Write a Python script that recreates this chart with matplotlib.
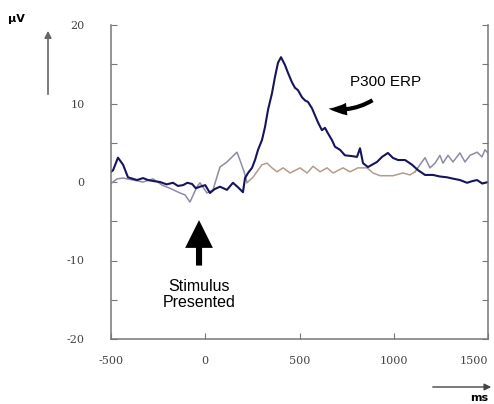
import matplotlib

matplotlib.use("Agg")

import matplotlib.pyplot as plt
from matplotlib.patches import FancyArrowPatch
from matplotlib.ticker import FixedLocator, FuncFormatter

# target (oddball) ERP: time in ms, amplitude in uV
target_ms = [-500, -489, -463, -436, -410, -383, -362, -330, -304, -270, -240, -205, -171, -145,
             -118, -95, -70, -50, -28, 0, 25, 50, 78, 115, 147, 175, 200, 211, 227, 248, 264,
             280, 301, 317, 333, 354, 370, 386, 402, 423, 439, 460, 476, 492, 513, 529, 545,
             566, 582, 598, 619, 635, 651, 672, 688, 715, 741, 778, 805, 821, 837, 863, 885,
             911, 938, 969, 996, 1023, 1060, 1097, 1129, 1166, 1208, 1245, 1282, 1320, 1351,
             1389, 1415, 1442, 1470, 1500]
target_uv = [1.3, 1.5, 3.1, 2.2, 0.6, 0.4, 0.25, 0.5, 0.25, 0.1, 0.0, -0.3, -0.1, -0.5,
             -0.4, -0.1, -0.25, -0.8, -0.6, -0.4, -1.4, -0.9, -0.6, -1.0, -0.1, -0.7, -1.3,
             0.5, 1.15, 1.8, 2.8, 4.1, 5.35, 7.0, 9.2, 11.3, 13.4, 15.2, 15.9, 14.9, 13.9, 12.7,
             12.0, 11.7, 10.8, 10.4, 10.2, 9.4, 8.5, 7.6, 6.6, 6.9, 6.2, 5.35, 4.5, 4.1, 3.4,
             3.3, 3.2, 4.3, 2.4, 1.9, 2.2, 2.55, 3.2, 3.7, 3.06, 2.8, 2.8, 2.2, 1.5, 0.9, 0.9,
             0.7, 0.6, 0.4, 0.25, -0.1, 0.1, 0.25, -0.2, 0.0]

# light trace, early and late parts
light_early_ms = [-495, -468, -436, -383, -330, -277, -229, -187, -134, -107, -81, -44, -28,
                  9, 41, 78, 115, 147, 168, 184, 206, 221]
light_early_uv = [-0.1, 0.4, 0.5, 0.25, 0.0, 0.4, -0.4, -0.8, -1.4, -1.65, -2.55, -0.6, -0.1,
                  -1.4, -1.0, 1.9, 2.55, 3.3, 3.8, 2.8, 1.3, 0.0]
light_late_ms = [1113, 1139, 1166, 1192, 1219, 1245, 1261, 1288, 1314, 1351, 1378, 1405, 1442,
                 1468, 1484, 1500]
light_late_uv = [1.3, 2.2, 3.1, 1.8, 2.4, 3.4, 2.4, 3.4, 2.55, 3.7, 2.55, 3.4, 3.8, 3.2, 4.1, 3.7]

# tan trace in the middle
tan_ms = [221, 253, 301, 328, 354, 381, 413, 450, 503, 540, 572, 609, 646, 678, 731, 768, 810,
          858, 890, 927, 996, 1049, 1086, 1113]
tan_uv = [-0.1, 0.6, 2.2, 2.4, 1.8, 1.3, 1.8, 1.15, 1.8, 1.15, 2.0, 1.3, 1.8, 1.15, 1.8, 1.3,
          1.8, 1.8, 1.15, 0.8, 0.8, 1.15, 0.9, 1.3]

x_ticks = [-500, 0, 500, 1000, 1500]
y_ticks = [-20, -15, -10, -5, 0, 5, 10, 15, 20]

fig = plt.figure(figsize=(4.94, 4.04), dpi=100)
ax = fig.add_axes([111 / 494, 1 - 339 / 404, 377 / 494, 314 / 404])

ax.plot(light_early_ms, light_early_uv, color="#8c8ca6", lw=1.1)
ax.plot(light_late_ms, light_late_uv, color="#8c8ca6", lw=1.1)
ax.plot(tan_ms, tan_uv, color="#b39c8e", lw=1.1)
ax.plot(target_ms, target_uv, color="#15155c", lw=1.5)

ax.set_xlim(-500, 1500)
ax.set_ylim(-20, 20)

for s in ("left", "right", "bottom"):
    ax.spines[s].set_color("#777777")
    ax.spines[s].set_linewidth(1.1)
ax.spines["top"].set_visible(False)

ax.xaxis.set_major_locator(FixedLocator(x_ticks))
ax.xaxis.set_major_formatter(FuncFormatter(lambda v, p: f"{v:.0f}"))
ax.yaxis.set_major_locator(FixedLocator(y_ticks))
ax.yaxis.set_major_formatter(FuncFormatter(lambda v, p: f"{v:.0f}" if v % 10 == 0 else ""))
ax.tick_params(axis="y", direction="in", length=4, color="#777777", left=True, right=True,
               labelsize=8, labelcolor="#444444", pad=19)
ax.tick_params(axis="x", direction="in", length=4, color="#777777",
               labelsize=8, labelcolor="#444444", pad=12)
fig.canvas.draw()
labels = ax.get_xticklabels()
labels[-1].set_ha("right")
for lab in ax.get_xticklabels() + ax.get_yticklabels():
    lab.set_family("DejaVu Serif")

# annotations inside the plot
ax.text(955, 12.7, "P300 ERP", fontsize=11, family="Liberation Sans", ha="center", va="center")
ax.add_patch(FancyArrowPatch((900, 10.6), (640, 9.4), connectionstyle="arc3,rad=-0.2",
                             arrowstyle="simple,head_length=1.3,head_width=0.9,tail_width=0.3",
                             color="black", mutation_scale=10, lw=0))
ax.text(-33, -14.3, "Stimulus\nPresented", fontsize=11.5, family="Liberation Sans",
        ha="center", va="center", linespacing=1.1)
ax.add_patch(FancyArrowPatch((-33, -11), (-33, -4.5),
                             arrowstyle="simple,head_length=1.0,head_width=1.0,tail_width=0.22",
                             color="black", mutation_scale=20, lw=0))

# unit arrows outside the plot
fig.patches.append(FancyArrowPatch((48 / 494, 1 - 97 / 404), (48 / 494, 1 - 28 / 404),
                                   transform=fig.transFigure, arrowstyle="-|>,head_length=4,head_width=2",
                                   color="#666666", lw=1.2))
fig.text(16 / 494, 1 - 19 / 404, "µV", fontsize=8, weight="bold", ha="center", va="center")
fig.patches.append(FancyArrowPatch((430 / 494, 1 - 387 / 404), (494 / 494, 1 - 387 / 404),
                                   transform=fig.transFigure, arrowstyle="-|>,head_length=4,head_width=2",
                                   color="#444444", lw=1.0))
fig.text(479 / 494, 1 - 398 / 404, "ms", fontsize=8, weight="bold", ha="center", va="center")

fig.savefig("out.png", dpi=100)
plt.close(fig)
